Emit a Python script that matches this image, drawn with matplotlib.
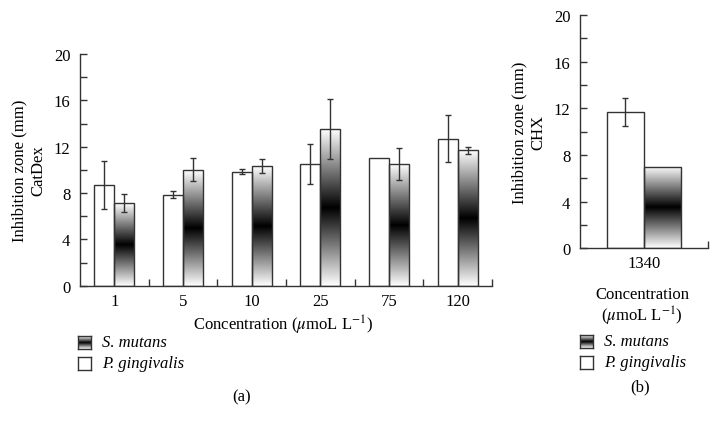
import numpy as np
import matplotlib
matplotlib.use("Agg")
import matplotlib.pyplot as plt
from matplotlib.ticker import MultipleLocator, FixedLocator

plt.rcParams['font.family'] = ['Liberation Serif', 'DejaVu Serif']
plt.rcParams['mathtext.fontset'] = 'stix'
plt.rcParams['font.size'] = 12

# panel (a): CatDex
conc_a = ['1', '5', '10', '25', '75', '120']
pg_a = [8.7, 7.85, 9.85, 10.5, 11.0, 12.7]        # P. gingivalis (white)
pg_err_a = [2.05, 0.3, 0.25, 1.75, None, 2.05]
sm_a = [7.15, 10.0, 10.35, 13.5, 10.5, 11.7]      # S. mutans (gradient)
sm_err_a = [0.75, 1.0, 0.58, 2.6, 1.35, 0.3]

# panel (b): CHX
conc_b = ['1340']
pg_b = [11.65]
pg_err_b = [1.2]
sm_b = [7.0]
sm_err_b = [None]

EDGE = '#333333'
BW = 0.29

t = np.linspace(0, 1, 256)
grad = np.abs(2 * t - 1).reshape(-1, 1)   # white-black-white


def grad_bar(ax, x0, h):
    ax.imshow(grad, cmap='gray', vmin=0, vmax=1, aspect='auto', origin='lower',
              extent=[x0, x0 + BW, 0, h], zorder=1, interpolation='bilinear')
    ax.bar(x0, h, BW, align='edge', facecolor='none', edgecolor=EDGE, lw=1.0, zorder=2)


def draw_panel(ax, labels, pg, pg_err, sm, sm_err, ylabel):
    n = len(labels)
    xs = np.arange(n)
    for i in xs:
        ax.bar(i - BW, pg[i], BW, align='edge', facecolor='white', edgecolor=EDGE, lw=1.0, zorder=2)
        grad_bar(ax, i, sm[i])
        if pg_err[i] is not None:
            ax.errorbar(i - BW / 2, pg[i], yerr=pg_err[i], color=EDGE, lw=1.0, capsize=2.5, capthick=1.0, zorder=3)
        if sm_err[i] is not None:
            ax.errorbar(i + BW / 2, sm[i], yerr=sm_err[i], color=EDGE, lw=1.0, capsize=2.5, capthick=1.0, zorder=3)
    ax.set_xlim(-0.5, n - 0.5)
    ax.set_ylim(0, 20)
    ax.set_xticks(xs)
    ax.set_xticklabels(labels)
    ax.xaxis.set_minor_locator(FixedLocator(np.arange(n) + 0.5))
    ax.yaxis.set_major_locator(MultipleLocator(4))
    ax.yaxis.set_minor_locator(MultipleLocator(2))
    ax.tick_params(axis='x', which='major', length=0, pad=5)
    ax.tick_params(axis='x', which='minor', direction='in', length=5, width=1.0, color=EDGE)
    ax.tick_params(axis='y', which='both', direction='in', length=5, width=1.0, color=EDGE, pad=7)
    for s in ['top', 'right']:
        ax.spines[s].set_visible(False)
    for s in ['left', 'bottom']:
        ax.spines[s].set_color(EDGE)
        ax.spines[s].set_linewidth(1.0)
    ax.set_ylabel(ylabel, linespacing=1.25, labelpad=5)


def legend(fig, x, y):
    W, H = 719, 427
    s = 13
    for k, (lab, is_grad) in enumerate([('S. mutans', True), ('P. gingivalis', False)]):
        cy = y + k * 21
        lax = fig.add_axes([x / W, 1 - (cy + s / 2) / H, s / W, s / H])
        if is_grad:
            lax.imshow(grad, cmap='gray', vmin=0, vmax=1, aspect='auto', origin='lower',
                       extent=[0, 1, 0, 1], interpolation='bilinear')
        lax.set_xlim(0, 1)
        lax.set_ylim(0, 1)
        lax.set_xticks([])
        lax.set_yticks([])
        for sp in lax.spines.values():
            sp.set_color(EDGE)
            sp.set_linewidth(1.0)
        fig.text((x + s + 11) / W, 1 - cy / H, lab, style='italic', ha='left', va='center')


fig = plt.figure(figsize=(7.19, 4.27), dpi=100)
W, H = 719, 427

ax_a = fig.add_axes([80 / W, 1 - 286.7 / H, 412 / W, 231.7 / H])
draw_panel(ax_a, conc_a, pg_a, pg_err_a, sm_a, sm_err_a, 'Inhibition zone (mm)\nCatDex')
fig.text(283 / W, 1 - 325 / H, r'Concentration ($\mu$moL L$^{-1}$)', ha='center', va='center')
legend(fig, 78, 343)
fig.text(242 / W, 1 - 397 / H, '(a)', ha='center', va='center')

ax_b = fig.add_axes([580 / W, 1 - 249.3 / H, 128 / W, 233.3 / H])
draw_panel(ax_b, conc_b, pg_b, pg_err_b, sm_b, sm_err_b, 'Inhibition zone (mm)\nCHX')
fig.text(642 / W, 1 - 295 / H, 'Concentration', ha='center', va='center')
fig.text(642 / W, 1 - 316 / H, r'($\mu$moL L$^{-1}$)', ha='center', va='center')
legend(fig, 580, 342)
fig.text(640 / W, 1 - 387 / H, '(b)', ha='center', va='center')

fig.savefig('out.png', dpi=100)
